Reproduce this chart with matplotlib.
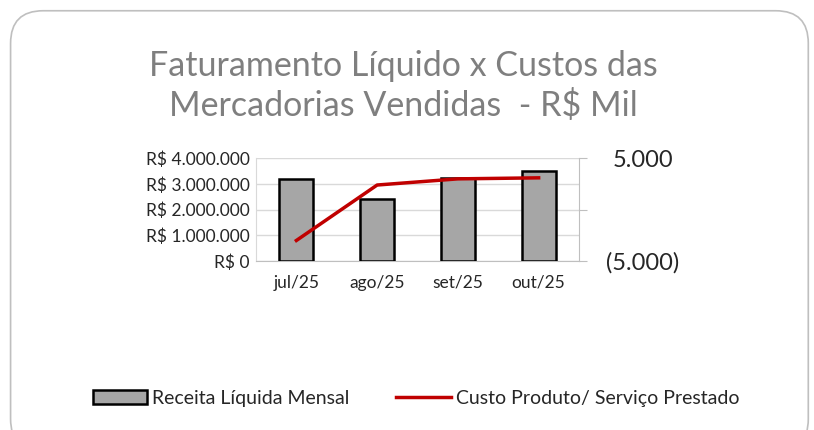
import matplotlib.pyplot as plt
from matplotlib.patches import FancyBboxPatch, Patch
from matplotlib.lines import Line2D
from matplotlib.ticker import FuncFormatter

months = ['jul/25', 'ago/25', 'set/25', 'out/25']
receita = [3200000, 2430000, 3250000, 3500000]  # R$
custo = [-3000, 2400, 3000, 3100]  # R$ mil, right axis

plt.rcParams['font.family'] = ['Lato', 'DejaVu Sans']

fig = plt.figure(figsize=(8.14, 4.30), dpi=100)

# rounded chart frame
frame = FancyBboxPatch((0.013, -0.05), 0.98, 1.025, boxstyle='round,pad=0,rounding_size=0.04',
                       transform=fig.transFigure, facecolor='white', edgecolor='#bfbfbf',
                       linewidth=1.2, mutation_aspect=814 / 430, zorder=-1)
fig.patches.append(frame)

fig.text(0.495, 0.8, 'Faturamento Líquido x Custos das\nMercadorias Vendidas  - R$ Mil',
         ha='center', va='center', fontsize=24.5, color='#7f7f7f', linespacing=1.25)

ax = fig.add_axes([0.3145, 0.393, 0.3968, 0.2388])
ax.patch.set_alpha(0)
x = range(len(months))
ax.bar(x, receita, width=0.42, color='#a6a6a6', edgecolor='black', linewidth=1.8, zorder=3)
ax.set_ylim(0, 4000000)
ax.set_yticks([0, 1000000, 2000000, 3000000, 4000000])
ax.yaxis.set_major_formatter(FuncFormatter(
    lambda v, p: 'R$ ' + f'{int(v):,}'.replace(',', '.')))
ax.set_xlim(-0.5, 3.5)
ax.set_xticks(list(x))
ax.set_xticklabels(months)
ax.grid(axis='y', color='#d9d9d9', linewidth=1, zorder=0)
ax.tick_params(axis='both', length=0, labelsize=12.5, colors='#262626')
ax.tick_params(axis='y', pad=4.5)
ax.tick_params(axis='x', pad=10)
for s in ['top', 'right']:
    ax.spines[s].set_visible(False)
ax.spines['left'].set_color('#d9d9d9')
ax.spines['bottom'].set_color('#bfbfbf')

ax2 = ax.twinx()
ax2.plot(list(x), custo, color='#c00000', linewidth=2.5, zorder=4)
ax2.set_ylim(-5000, 5000)
ax2.set_yticks([-5000, 0, 5000])


def fmt_mil(v, p):
    if v == 0:
        return ''
    s = f'{abs(int(v)):,}'.replace(',', '.')
    return f'({s})' if v < 0 else s


ax2.yaxis.set_major_formatter(FuncFormatter(fmt_mil))
ax2.tick_params(axis='y', direction='out', length=6, color='#bfbfbf', labelsize=17,
                labelcolor='#262626', pad=40)
for lbl in ax2.get_yticklabels():
    lbl.set_ha('center')
for s in ['top', 'left', 'bottom']:
    ax2.spines[s].set_visible(False)
ax2.spines['right'].set_color('#bfbfbf')

handles = [Patch(facecolor='#a6a6a6', edgecolor='black', linewidth=1.8),
           Line2D([0], [0], color='#c00000', linewidth=2.5)]
fig.legend(handles, ['Receita Líquida Mensal', 'Custo Produto/ Serviço Prestado'],
           loc='center', bbox_to_anchor=(0.511, 0.074), ncol=2, frameon=False,
           fontsize=14, handlelength=2.8, handletextpad=0.25, columnspacing=2.4,
           labelcolor='#262626')

fig.savefig('out.png', dpi=100)
